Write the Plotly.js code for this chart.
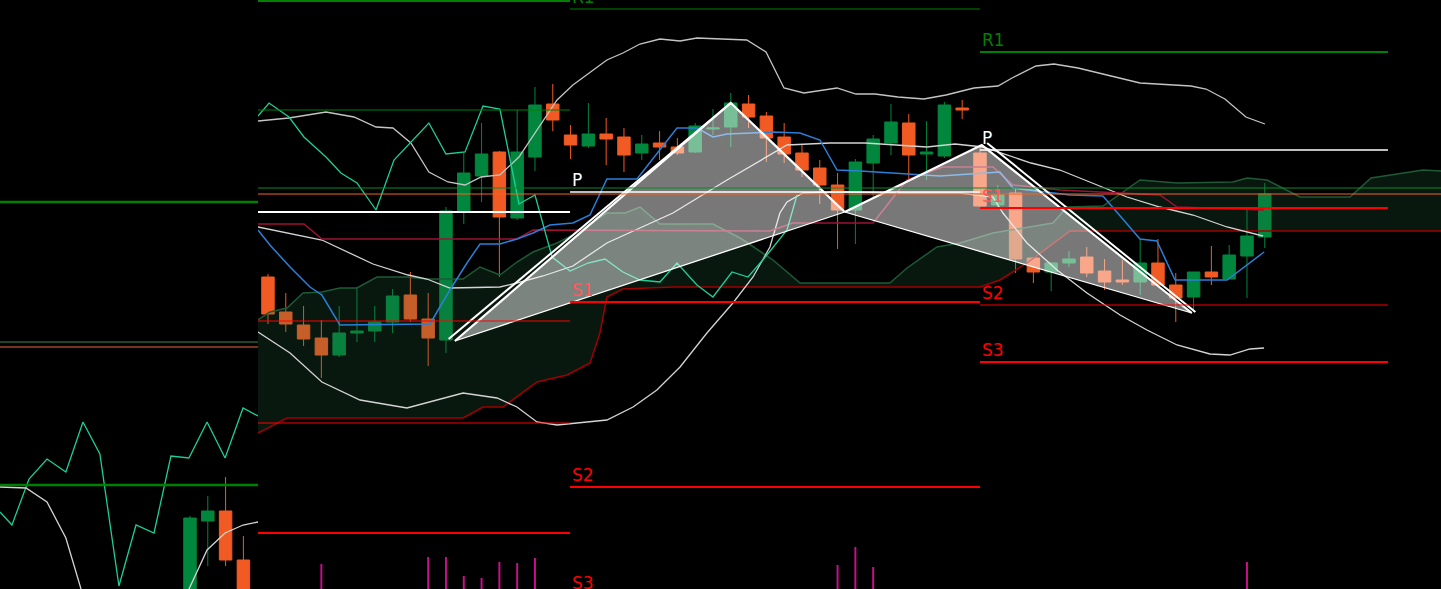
<!DOCTYPE html>
<html>
<head>
<meta charset="utf-8">
<script src="https://cdn.plot.ly/plotly-3.0.1.min.js"></script>
<style>
  html, body { margin: 0; padding: 0; background: #000; overflow: hidden; }
  #graphDiv { width: 1441px; height: 589px; }
</style>
</head>
<body>
<div id="graphDiv"></div>
<script>
// html tag
const graphDiv = document.getElementById('graphDiv');

// price range shown **********************************
const yMin = 1.1000;
const yMax = 1.1589;

// candles (bar index 0..56) ****************************
const bars = [0,1,2,3,4,5,6,7,8,9,10,11,12,13,14,15,16,17,18,19,20,21,22,23,24,25,26,27,28,
  29,30,31,32,33,34,35,36,37,38,39,40,41,42,43,44,45,46,47,48,49,50,51,52,53,54,55,56];

const open = [
  1.1312,1.1277,1.1264,1.1251,1.1234,1.1256,1.1258,1.1267,1.1294,1.1270,
  1.1249,1.1378,1.1413,1.1437,1.1371,1.1432,1.1485,1.1454,1.1443,1.1455,
  1.1452,1.1436,1.1446,1.1442,1.1437,1.1460,1.1462,1.1485,1.1473,1.1452,
  1.1436,1.1421,1.1404,1.1379,1.1426,1.1446,1.1466,1.1435,1.1433,1.1481,
  1.1436,1.1384,1.1396,1.1331,1.1317,1.1326,1.1332,1.1318,1.1309,1.1307,
  1.1326,1.1304,1.1292,1.1317,1.1310,1.1333,1.1352];
const high = [
  1.1315,1.1296,1.1283,1.1269,1.1283,1.1302,1.1283,1.1300,1.1317,1.1296,
  1.1382,1.1437,1.1466,1.1438,1.1479,1.1502,1.1505,1.1464,1.1486,1.1471,
  1.1461,1.1454,1.1458,1.1451,1.1466,1.1480,1.1496,1.1494,1.1477,1.1466,
  1.1444,1.1429,1.1416,1.1430,1.1454,1.1485,1.1475,1.1468,1.1487,1.1489,
  1.1442,1.1404,1.1401,1.1332,1.1327,1.1338,1.1342,1.1330,1.1329,1.1350,
  1.1350,1.1316,1.1317,1.1343,1.1344,1.1380,1.1406];
const low = [
  1.1265,1.1257,1.1243,1.1211,1.1232,1.1247,1.1247,1.1256,1.1267,1.1223,
  1.1236,1.1365,1.1387,1.1312,1.1369,1.1418,1.1458,1.1430,1.1441,1.1424,
  1.1417,1.1429,1.1429,1.1434,1.1436,1.1454,1.1442,1.1461,1.1427,1.1426,
  1.1412,1.1385,1.1340,1.1345,1.1392,1.1434,1.1407,1.1409,1.1431,1.1470,
  1.1382,1.1382,1.1316,1.1306,1.1298,1.1322,1.1312,1.1299,1.1304,1.1294,
  1.1303,1.1267,1.1277,1.1304,1.1310,1.1291,1.1341];
const close = [
  1.1275,1.1265,1.1250,1.1234,1.1256,1.1258,1.1267,1.1293,1.1270,1.1251,
  1.1378,1.1416,1.1435,1.1372,1.1437,1.1484,1.1469,1.1444,1.1455,1.1450,
  1.1434,1.1445,1.1442,1.1436,1.1463,1.1461,1.1486,1.1472,1.1451,1.1435,
  1.1419,1.1404,1.1379,1.1427,1.1450,1.1467,1.1434,1.1437,1.1484,1.1479,
  1.1383,1.1394,1.1330,1.1317,1.1326,1.1330,1.1316,1.1307,1.1307,1.1326,
  1.1304,1.1291,1.1317,1.1312,1.1334,1.1353,1.1395];

// bollinger bands ***************************************
const bbUpperX = [-0.56,1.18,3.26,4.83,6.07,7.02,8.03,9.04,10.11,11.07,11.97,13.03,14.1,15.11,16.24,17.13,
  18.09,19.04,19.94,20.9,22.02,23.15,24.1,25.96,26.9,27.98,28.99,30.11,31.97,33.03,34.1,35.39,36.85,
  38.09,39.66,41.01,41.8,43.15,44.16,45.51,46.85,48.99,51.85,52.7,53.76,54.94,56.01];
const bbUpperY = [1.1468,1.1471,1.1477,1.1472,1.1462,1.1461,1.1446,1.1417,1.1407,1.1404,1.1412,1.1414,
  1.1432,1.1459,1.1489,1.1504,1.1517,1.1529,1.1536,1.1545,1.1550,1.1548,1.1551,1.1550,1.1549,1.1537,
  1.1501,1.1496,1.1501,1.1495,1.1495,1.1492,1.1490,1.1494,1.1501,1.1503,1.1511,1.1523,1.1525,1.1521,
  1.1515,1.1506,1.1503,1.1500,1.1490,1.1472,1.1465];

const bbMidX = [-0.56,3.03,5.9,7.87,8.93,10.22,13.03,13.99,15.45,17.13,19.04,22.75,25.79,28.37,29.16,
  31.57,33.54,37.02,38.6,40.17,42.87,44.49,46.35,48.26,50.11,51.97,53.88,55.9];
const bbMidY = [1.1362,1.1349,1.1325,1.1314,1.1310,1.1301,1.1302,1.1306,1.1313,1.1323,1.1346,1.1376,
  1.1409,1.1436,1.1444,1.1446,1.1446,1.1442,1.1445,1.1442,1.1426,1.1419,1.1406,1.1392,1.1382,1.1374,
  1.1362,1.1353];

const bbLowerX = [-0.56,1.24,3.03,5.17,7.81,9.1,10.96,12.87,13.99,15.11,16.24,19.04,20.51,21.85,23.15,
  24.66,26.12,27.25,28.2,28.76,29.16,30.06,32.13,35.5,38.88,40.73,41.29,42.64,44.33,46.01,47.87,49.38,
  51.07,52.92,54.04,55.17,55.96];
const bbLowerY = [1.1257,1.1236,1.1207,1.1189,1.1181,1.1187,1.1196,1.1191,1.1182,1.1167,1.1164,1.1169,
  1.1182,1.1199,1.1222,1.1256,1.1286,1.1312,1.1342,1.1376,1.1387,1.1396,1.1397,1.1396,1.1396,1.1392,
  1.1376,1.1346,1.1319,1.1296,1.1274,1.1259,1.1244,1.1235,1.1234,1.1240,1.1241];

// ichimoku **********************************************
const tenkanX = [-0.56,0.11,1.24,2.36,3.03,4.04,9.1,10.22,11.18,11.91,13.03,13.99,14.89,15.84,17.13,
  18.09,19.04,20.73,22.98,24.1,25.0,25.79,28.37,29.89,31.01,31.97,33.26,34.94,37.75,41.12,41.85,45.06,
  46.91,48.99,49.94,50.96,53.88,55.96];
const tenkanY = [1.1359,1.1344,1.1322,1.1302,1.1294,1.1264,1.1265,1.1299,1.1326,1.1345,1.1345,1.1350,
  1.1356,1.1364,1.1366,1.1374,1.1410,1.1410,1.1461,1.1461,1.1452,1.1455,1.1457,1.1456,1.1449,1.1419,
  1.1418,1.1416,1.1413,1.1417,1.1401,1.1394,1.1393,1.1350,1.1348,1.1309,1.1309,1.1337];

const kijunX = [-0.56,2.02,3.03,13.99,14.89,28.2,29.49,33.99,35.9,37.92,40.73,41.85,44.49,50.11,51.07,55.96];
const kijunY = [1.1365,1.1365,1.1350,1.1350,1.1359,1.1358,1.1366,1.1366,1.1409,1.1422,1.1422,1.1404,
  1.1399,1.1394,1.1382,1.1379];

const chikouX = [-0.56,0.06,1.18,2.02,3.26,4.1,5.0,6.07,7.08,8.03,9.04,10.0,11.07,12.08,13.03,14.1,15.0,
  15.96,16.97,17.98,18.93,19.94,20.9,22.02,22.98,24.1,25.0,26.07,26.97,28.03,29.16,29.72];
const chikouY = [1.1473,1.1486,1.1472,1.1452,1.1432,1.1416,1.1406,1.1379,1.1429,1.1447,1.1466,1.1435,
  1.1437,1.1483,1.1480,1.1385,1.1394,1.1332,1.1318,1.1326,1.1330,1.1317,1.1309,1.1307,1.1326,1.1304,
  1.1292,1.1317,1.1312,1.1334,1.1359,1.1394];

const spanBX = [-0.56,1.07,10.96,12.08,13.2,15.11,16.8,18.09,18.65,19.04,19.94,22.75,40.0,41.12,42.64,45.06,65.9];
const spanBY = [1.1156,1.1171,1.1171,1.1182,1.1182,1.1207,1.1214,1.1226,1.1256,1.1292,1.1300,1.1302,
  1.1302,1.1309,1.1326,1.1358,1.1358];

const spanAX = [-0.56,0.11,1.07,1.97,3.03,4.04,5.0,6.12,7.81,8.93,10.96,11.91,13.03,13.99,14.89,16.24,
  17.13,19.04,20.06,20.9,22.02,25.0,26.52,28.37,29.89,34.94,35.9,37.58,38.88,40.73,44.1,44.89,46.91,
  48.99,51.07,54.21,55.0,56.12,57.98,60.79,61.97,64.89,65.9];
const spanAY = [1.1269,1.1277,1.1281,1.1296,1.1297,1.1301,1.1301,1.1312,1.1312,1.1310,1.1310,1.1322,
  1.1314,1.1327,1.1337,1.1346,1.1354,1.1376,1.1376,1.1382,1.1365,1.1365,1.1351,1.1329,1.1306,1.1306,
  1.1321,1.1342,1.1346,1.1356,1.1366,1.1382,1.1383,1.1409,1.1406,1.1407,1.1411,1.1409,1.1392,1.1392,
  1.1411,1.1419,1.1418];

// harmonic pattern X A B C D *****************************
const patX = [10.5, 26.0, 32.4, 40.1, 51.9];
const patY = [1.1248, 1.1486, 1.1377, 1.1444, 1.1276];
const echoXA_X = [10.15, 26.0];
const echoXA_Y = [1.1250, 1.1486];
const echoCD_X = [40.4, 52.1];
const echoCD_Y = [1.1446, 1.1277];

// pivot levels per day **********************************
const pivotNames = ['R2', 'R1', 'P', 'S1', 'S2', 'S3'];
const dayStart = [-0.56, 16.97, 40.0];
const dayEnd = [16.97, 40.0, 62.92];
const pivotDay1 = [1.1588, 1.1479, 1.1377, 1.1268, 1.1166, 1.1056];
const pivotDay2 = [null, 1.1580, 1.1397, 1.1287, 1.1102, 1.0994];
const pivotDay3 = [null, 1.1537, 1.1439, 1.1381, 1.1284, 1.1227];
const fullLevels = [1.1401, 1.1395];

// volume spikes *****************************************
const volBars = [3, 9, 10, 11, 12, 13, 14, 15, 32, 33, 34, 55];
const volume = [25, 32, 32, 13, 11, 27, 26, 31, 24, 42, 22, 27];

// left pane (older window) *******************************
const leftBars = [0, 1, 2, 3];
const leftOpen = [1.0975, 1.1068, 1.1078, 1.1029];
const leftHigh = [1.1073, 1.1093, 1.1112, 1.1053];
const leftLow = [1.0970, 1.1023, 1.1023, 1.0980];
const leftClose = [1.1071, 1.1078, 1.1029, 1.0985];
const leftTealX = [-10.67,-10.0,-9.04,-8.03,-6.97,-6.01,-5.06,-3.99,-3.03,-2.02,-1.07,-0.06,0.96,1.97,2.98,3.82];
const leftTealY = [1.1077,1.1064,1.1110,1.1130,1.1117,1.1167,1.1135,1.1003,1.1064,1.1056,1.1133,1.1131,
  1.1167,1.1131,1.1181,1.1173];
const leftBandAX = [-10.67,-9.21,-8.03,-6.97,-6.12,-5.9];
const leftBandAY = [1.1102,1.1101,1.1087,1.1051,1.1000,1.0990];
const leftBandBX = [-0.34,0.96,1.97,2.98,3.82];
const leftBandBY = [1.0989,1.1039,1.1056,1.1064,1.1067];
const leftLevels = [1.1387, 1.1247, 1.1242, 1.1104];

// styles ***********************************************
const green = '#00873d';
const orange = '#f15a22';
const pivotWidth = [
  {R2: 2, R1: 1, P: 2, S1: 1, S2: 1, S3: 2},
  {R2: 1, R1: 1, P: 1.5, S1: 2, S2: 2, S3: 2},
  {R2: 1, R1: 2, P: 1.5, S1: 2, S2: 1, S3: 2}
];
function pivotColor(name) {
  if (name[0] === 'R') return '#008000';
  if (name[0] === 'P') return '#ffffff';
  return '#ff0000';
};
function labelColor(name) {
  if (name === 'S1') return '#ff5a5a';
  return pivotColor(name);
};
function line(x, y, color, width, axis) {
  return {
    x: x, y: y, type: 'scatter', mode: 'lines',
    line: {color: color, width: width},
    xaxis: axis || 'x', yaxis: 'y', hoverinfo: 'skip'
  };
};

var data = [];

// candles
data.push({
  type: 'candlestick', x: bars, open: open, high: high, low: low, close: close,
  increasing: {line: {color: green, width: 1}, fillcolor: green},
  decreasing: {line: {color: orange, width: 1}, fillcolor: orange},
  whiskerwidth: 0, xaxis: 'x', yaxis: 'y'
});
data.push({
  type: 'candlestick', x: leftBars, open: leftOpen, high: leftHigh, low: leftLow, close: leftClose,
  increasing: {line: {color: green, width: 1}, fillcolor: green},
  decreasing: {line: {color: orange, width: 1}, fillcolor: orange},
  whiskerwidth: 0, xaxis: 'x2', yaxis: 'y'
});

// cloud
data.push(line(spanBX, spanBY, '#a00000', 1.5));
var spanA = line(spanAX, spanAY, '#1e5a36', 1.5);
spanA.fill = 'tonexty';
spanA.fillcolor = 'rgba(40,110,70,0.22)';
data.push(spanA);

// bands and lines
data.push(line(bbUpperX, bbUpperY, '#c4c4c4', 1.3));
data.push(line(bbMidX, bbMidY, '#d4d4d4', 1.3));
data.push(line(bbLowerX, bbLowerY, '#d4d4d4', 1.3));
data.push(line(kijunX, kijunY, '#9c1236', 1.5));
data.push(line(tenkanX, tenkanY, '#2a7fd8', 1.5));
data.push(line(chikouX, chikouY, '#1ccf98', 1.3));

// left pane lines
data.push(line(leftTealX, leftTealY, '#1ccf98', 1.3, 'x2'));
data.push(line(leftBandAX, leftBandAY, '#d4d4d4', 1.3, 'x2'));
data.push(line(leftBandBX, leftBandBY, '#d4d4d4', 1.3, 'x2'));
const leftStyle = [[ '#008000', 2.5 ], [ '#2e8b57', 1 ], [ '#f0643c', 1 ], [ '#008000', 2.5 ]];
leftLevels.forEach(function(lv, k) {
  data.push(line([-10.67, 3.82], [lv, lv], leftStyle[k][0], leftStyle[k][1], 'x2'));
});

// harmonic pattern: two translucent triangles
var tri1 = line([patX[0], patX[1], patX[2], patX[0]], [patY[0], patY[1], patY[2], patY[0]], 'rgba(0,0,0,0)', 0);
tri1.fill = 'toself';
tri1.fillcolor = 'rgba(255,255,255,0.47)';
data.push(tri1);
var tri2 = line([patX[2], patX[3], patX[4], patX[2]], [patY[2], patY[3], patY[4], patY[2]], 'rgba(0,0,0,0)', 0);
tri2.fill = 'toself';
tri2.fillcolor = 'rgba(255,255,255,0.47)';
data.push(tri2);
data.push(line([patX[0], patX[1], patX[2]], [patY[0], patY[1], patY[2]], '#ffffff', 2.2));
data.push(line([patX[0], patX[2]], [patY[0], patY[2]], '#ffffff', 1.3));
data.push(line([patX[2], patX[3], patX[4]], [patY[2], patY[3], patY[4]], '#ffffff', 2.2));
data.push(line([patX[2], patX[4]], [patY[2], patY[4]], '#ffffff', 1.3));
data.push(line(echoXA_X, echoXA_Y, '#ffffff', 2));
data.push(line(echoCD_X, echoCD_Y, '#ffffff', 2));

// pivot levels
var annotations = [];
[pivotDay1, pivotDay2, pivotDay3].forEach(function(levels, d) {
  levels.forEach(function(lv, k) {
    if (lv === null) return;
    var name = pivotNames[k];
    data.push(line([dayStart[d], dayEnd[d]], [lv, lv], pivotColor(name), pivotWidth[d][name]));
    if (d > 0) {
      annotations.push({
        xref: 'x', yref: 'paper', x: dayStart[d], y: (lv - yMin) / (yMax - yMin),
        xanchor: 'left', yanchor: 'bottom', showarrow: false, text: name,
        font: {family: 'DejaVu Sans', size: 17, color: labelColor(name)}
      });
    }
  });
});
data.push(line([-0.56, 65.9], [fullLevels[0], fullLevels[0]], '#0a8a2a', 1.2));
data.push(line([-0.56, 65.9], [fullLevels[1], fullLevels[1]], '#f5641e', 1.2));

// volume
data.push({
  type: 'bar', x: volBars, y: volume, width: 0.11,
  marker: {color: '#c8108c', line: {width: 0}},
  xaxis: 'x', yaxis: 'y3', hoverinfo: 'skip'
});

Plotly.newPlot(graphDiv, data, {
  width: 1441, height: 589,
  margin: {l: 0, r: 0, t: 0, b: 0},
  paper_bgcolor: '#000', plot_bgcolor: '#000',
  showlegend: false,
  boxgap: 0.3, boxgroupgap: 0,
  xaxis: {domain: [0.17904, 1], range: [-0.56, 65.9], visible: false, rangeslider: {visible: false}},
  xaxis2: {domain: [0, 0.17904], range: [-10.67, 3.82], visible: false, anchor: 'y', rangeslider: {visible: false}},
  yaxis: {range: [yMin, yMax], visible: false},
  yaxis3: {overlaying: 'y', range: [0, 589], visible: false},
  annotations: annotations
}, {displayModeBar: false, staticPlot: true});
</script>
</body>
</html>
